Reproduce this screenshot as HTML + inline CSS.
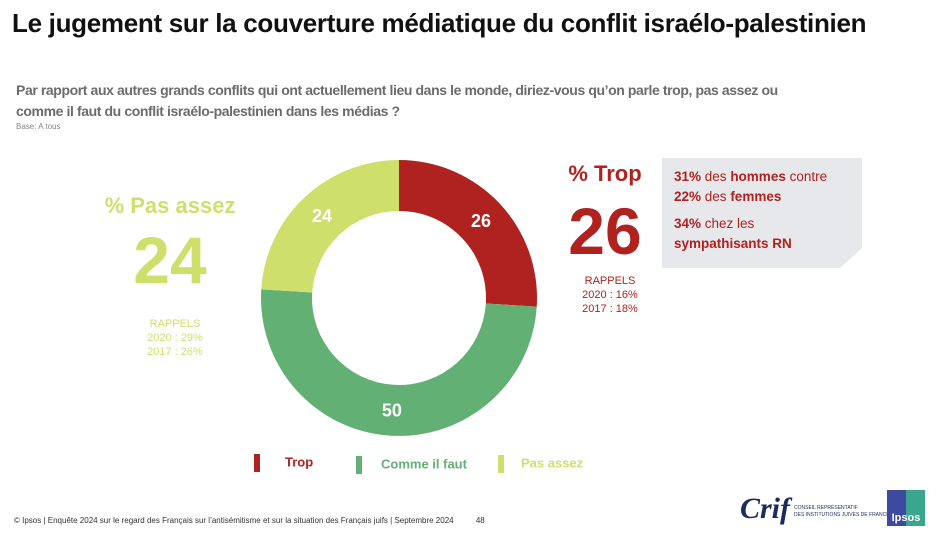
<!DOCTYPE html>
<html><head><meta charset="utf-8">
<style>
body{margin:0;width:945px;height:539px;background:#fff;font-family:"Liberation Sans",sans-serif;position:relative;overflow:hidden}
.a{position:absolute}
</style></head><body>
<div class="a" style="left:12px;top:8px;font-size:26px;font-weight:bold;color:#111;letter-spacing:-0.3px">Le jugement sur la couverture médiatique du conflit israélo-palestinien</div>
<div class="a" style="left:16px;top:80px;font-size:14px;font-weight:bold;color:#6b6b6b;line-height:21px;white-space:nowrap;letter-spacing:-0.4px">Par rapport aux autres grands conflits qui ont actuellement lieu dans le monde, diriez-vous qu’on parle trop, pas assez ou<br>comme il faut du conflit israélo-palestinien dans les médias ?</div>
<div class="a" style="left:16px;top:122px;font-size:8px;color:#888">Base: A tous</div>

<div class="a" style="left:90px;top:193px;width:160px;text-align:center;font-size:22px;font-weight:bold;color:#cfdf6b">% Pas assez</div>
<div class="a" style="left:90px;top:222px;width:160px;text-align:center;font-size:66px;font-weight:bold;color:#cfdf6b">24</div>
<div class="a" style="left:120px;top:317px;width:110px;text-align:center;font-size:11px;color:#cfdf6b;line-height:14px">RAPPELS<br>2020 : 29%<br>2017 : 26%</div>

<div class="a" style="left:550px;top:161px;width:110px;text-align:center;font-size:22px;font-weight:bold;color:#b0221f">% Trop</div>
<div class="a" style="left:550px;top:193px;width:110px;text-align:center;font-size:66px;font-weight:bold;color:#b0221f">26</div>
<div class="a" style="left:555px;top:274px;width:110px;text-align:center;font-size:11px;color:#b0221f;line-height:14px">RAPPELS<br>2020 : 16%<br>2017 : 18%</div>

<svg class="a" style="left:662px;top:158px" width="200" height="112"><polygon points="0,0 200,0 200,90 178,110 0,110" fill="#e6e8ec"/></svg>
<div class="a" style="left:674px;top:167px;font-size:13.5px;color:#b0221f;line-height:20px"><b>31%</b> des <b>hommes</b> contre<br><b>22%</b> des <b>femmes</b><div style="height:7px"></div><b>34%</b> chez les<br><b>sympathisants RN</b></div>

<svg class="a" id="chart" style="left:0;top:0" width="945" height="539"></svg>

<div class="a" style="left:254px;top:454px;font-size:13px;font-weight:bold;color:#b0221f"><span style="display:inline-block;width:6px;height:18px;background:#b0221f;vertical-align:middle;margin-right:25px"></span>Trop</div>
<div class="a" style="left:356px;top:456px;font-size:13px;font-weight:bold;color:#63b075"><span style="display:inline-block;width:6px;height:18px;background:#63b075;vertical-align:middle;margin-right:19px"></span>Comme il faut</div>
<div class="a" style="left:498px;top:455px;font-size:13px;font-weight:bold;color:#cfdf6b"><span style="display:inline-block;width:6px;height:18px;background:#cfdf6b;vertical-align:middle;margin-right:17px"></span>Pas assez</div>

<div class="a" style="left:14px;top:516px;font-size:8px;color:#333">© Ipsos | Enquête 2024 sur le regard des Français sur l’antisémitisme et sur la situation des Français juifs | Septembre 2024 &nbsp;&nbsp;&nbsp;&nbsp;&nbsp;&nbsp;&nbsp;&nbsp;&nbsp;48</div>
<div class="a" style="left:740px;top:492px;font-family:'Liberation Serif',serif;font-style:italic;font-weight:bold;font-size:30px;color:#1d2a5c">Crif</div>
<div class="a" style="left:794px;top:505px;font-size:5px;color:#1d2a5c;line-height:7px">CONSEIL REPRÉSENTATIF<br>DES INSTITUTIONS JUIVES DE FRANCE</div>
<div class="a" style="left:887px;top:490px;width:38px;height:36px;background:linear-gradient(90deg,#3d4aa0 50%,#3aa68f 50%);color:#fff;font-size:11px;font-weight:bold;text-align:center;line-height:56px">Ipsos</div>

<script>
const categories=["Trop","Comme il faut","Pas assez"];
const values=[26,50,24];
const colors=["#b0221f","#63b075","#cfdf6b"];
const svg=document.getElementById('chart');
const cx=399,cy=298,R=138,r=87;
const total=values.reduce((a,b)=>a+b,0);
function pt(rad,f){const a=f*2*Math.PI-Math.PI/2;return [cx+rad*Math.cos(a),cy+rad*Math.sin(a)];}
let acc=0;
values.forEach((v,i)=>{
  const f0=acc/total,f1=(acc+v)/total;acc+=v;
  const large=(f1-f0)>0.5?1:0;
  const [x0,y0]=pt(R,f0),[x1,y1]=pt(R,f1),[x2,y2]=pt(r,f1),[x3,y3]=pt(r,f0);
  const p=document.createElementNS('http://www.w3.org/2000/svg','path');
  p.setAttribute('d',`M${x0},${y0}A${R},${R} 0 ${large} 1 ${x1},${y1}L${x2},${y2}A${r},${r} 0 ${large} 0 ${x3},${y3}Z`);
  p.setAttribute('fill',colors[i]);
  
  
  svg.appendChild(p);
  const [tx,ty]=pt((R+r)/2,(f0+f1)/2);
  const t=document.createElementNS('http://www.w3.org/2000/svg','text');
  t.setAttribute('x',tx);t.setAttribute('y',ty+6);
  t.setAttribute('text-anchor','middle');t.setAttribute('fill','#fff');
  t.setAttribute('font-size','18');t.setAttribute('font-weight','bold');
  t.setAttribute('font-family','Liberation Sans, sans-serif');
  
  
  t.textContent=v;
  svg.appendChild(t);
});
</script>
</body></html>
